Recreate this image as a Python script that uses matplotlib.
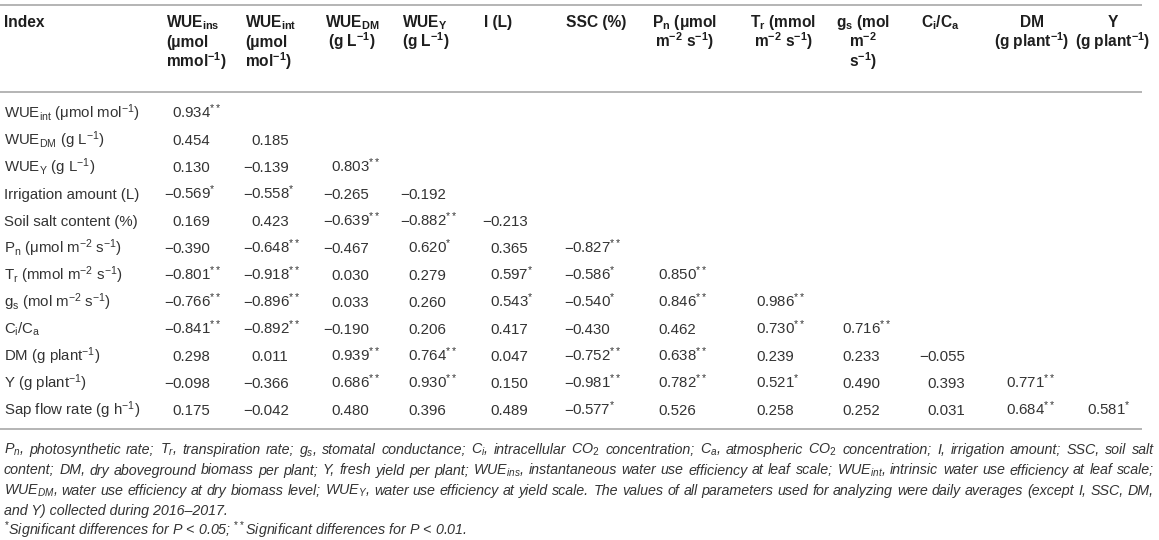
import matplotlib
matplotlib.use("Agg")
import matplotlib.pyplot as plt

# ---------------- data ----------------
row_labels = [
    r"WUE$_{\mathrm{int}}$ (μmol mol$^{-1}$)",
    r"WUE$_{\mathrm{DM}}$ (g L$^{-1}$)",
    r"WUE$_{\mathrm{Y}}$ (g L$^{-1}$)",
    "Irrigation amount (L)",
    "Soil salt content (%)",
    r"P$_{\mathrm{n}}$ (μmol m$^{-2}$ s$^{-1}$)",
    r"T$_{\mathrm{r}}$ (mmol m$^{-2}$ s$^{-1}$)",
    r"g$_{\mathrm{s}}$ (mol m$^{-2}$ s$^{-1}$)",
    r"C$_{\mathrm{i}}$/C$_{\mathrm{a}}$",
    r"DM (g plant$^{-1}$)",
    r"Y (g plant$^{-1}$)",
    r"Sap flow rate (g h$^{-1}$)",
]

header_index = "Index"
header_lines = [
    [r"WUE$_{\mathbf{ins}}$", "(μmol", r"mmol$^{\mathbf{-1}}$)"],
    [r"WUE$_{\mathbf{int}}$", "(μmol", r"mol$^{\mathbf{-1}}$)"],
    [r"WUE$_{\mathbf{DM}}$", r"(g L$^{\mathbf{-1}}$)"],
    [r"WUE$_{\mathbf{Y}}$", r"(g L$^{\mathbf{-1}}$)"],
    ["I (L)"],
    ["SSC (%)"],
    [r"P$_{\mathbf{n}}$ (μmol", r"m$^{\mathbf{-2}}$ s$^{\mathbf{-1}}$)"],
    [r"T$_{\mathbf{r}}$ (mmol", r"m$^{\mathbf{-2}}$ s$^{\mathbf{-1}}$)"],
    [r"g$_{\mathbf{s}}$ (mol", r"m$^{\mathbf{-2}}$", r"s$^{\mathbf{-1}}$)"],
    [r"C$_{\mathbf{i}}$/C$_{\mathbf{a}}$"],
    ["DM", r"(g plant$^{\mathbf{-1}}$)"],
    ["Y", r"(g plant$^{\mathbf{-1}}$)"],
]
header_align = ["left", "left", "center", "left", "left", "left",
                "center", "center", "center", "left", "center", "center"]

r_values = [
    [0.934],
    [0.454, 0.185],
    [0.130, -0.139, 0.803],
    [-0.569, -0.558, -0.265, -0.192],
    [0.169, 0.423, -0.639, -0.882, -0.213],
    [-0.390, -0.648, -0.467, 0.620, 0.365, -0.827],
    [-0.801, -0.918, 0.030, 0.279, 0.597, -0.586, 0.850],
    [-0.766, -0.896, 0.033, 0.260, 0.543, -0.540, 0.846, 0.986],
    [-0.841, -0.892, -0.190, 0.206, 0.417, -0.430, 0.462, 0.730, 0.716],
    [0.298, 0.011, 0.939, 0.764, 0.047, -0.752, 0.638, 0.239, 0.233, -0.055],
    [-0.098, -0.366, 0.686, 0.930, 0.150, -0.981, 0.782, 0.521, 0.490, 0.393, 0.771],
    [0.175, -0.042, 0.480, 0.396, 0.489, -0.577, 0.526, 0.258, 0.252, 0.031, 0.684, 0.581],
]
significance = [
    ["**"],
    ["", ""],
    ["", "", "**"],
    ["*", "*", "", ""],
    ["", "", "**", "**", ""],
    ["", "**", "", "*", "", "**"],
    ["**", "**", "", "", "*", "*", "**"],
    ["**", "**", "", "", "*", "*", "**", "**"],
    ["**", "**", "", "", "", "", "", "**", "**"],
    ["", "", "**", "**", "", "**", "**", "", "", ""],
    ["", "", "**", "**", "", "**", "**", "*", "", "", "**"],
    ["", "", "", "", "", "*", "", "", "", "", "**", "*"],
]

footnote_lines = [
    r"$P_n$, photosynthetic rate; $T_r$, transpiration rate; $g_s$, stomatal conductance; $C_i$, intracellular CO$_2$ concentration; $C_a$, atmospheric CO$_2$ concentration; I, irrigation amount; SSC, soil salt",
    r"content; DM, dry aboveground biomass per plant; Y, fresh yield per plant; WUE$_{ins}$, instantaneous water use efficiency at leaf scale; WUE$_{int}$, intrinsic water use efficiency at leaf scale;",
    r"WUE$_{DM}$, water use efficiency at dry biomass level; WUE$_Y$, water use efficiency at yield scale. The values of all parameters used for analyzing were daily averages (except I, SSC, DM,",
    "and Y) collected during 2016–2017.",
    r"$^{*}$Significant differences for P < 0.05; $^{**}$Significant differences for P < 0.01.",
]
footnote_justify = [True, True, True, False, False]

# ---------------- style ----------------
plt.rcParams["font.family"] = ["Liberation Sans", "DejaVu Sans"]
plt.rcParams["mathtext.fontset"] = "custom"
plt.rcParams["mathtext.rm"] = "Liberation Sans"
plt.rcParams["mathtext.sf"] = "Liberation Sans"
plt.rcParams["mathtext.bf"] = "Liberation Sans:bold"
plt.rcParams["mathtext.it"] = "Liberation Sans:italic"

W, H = 1159, 540
fig = plt.figure(figsize=(W / 100, H / 100), dpi=100)
ax = fig.add_axes([0, 0, 1, 1])
ax.set_xlim(0, W)
ax.set_ylim(H, 0)
ax.axis("off")
renderer = fig.canvas.get_renderer()

FS = 10.8
HFS = 11.2
TXT = "#333333"
HDR = "#1e1e1e"
RULE = "#b4b4b4"

col_x = [172, 251, 331, 408, 490, 572, 658, 756, 842, 927, 1006, 1087]
MINUS = 9.0
LEFT = 4
RIGHT_RULE = 1142
row_y0, row_dy = 112.5, 27.0
hdr_y = [27, 47, 67]

# rules
for y in (4.5, 92, 429):
    ax.plot([0, RIGHT_RULE], [y, y], color=RULE, lw=1.4, solid_capstyle="butt")

# header
ax.text(LEFT, hdr_y[0], header_index, ha="left", va="baseline",
        fontsize=HFS, fontweight="bold", color=HDR)
for j, lines in enumerate(header_lines):
    left = col_x[j] - 6
    if j >= 10:
        left = col_x[j] - MINUS - 3
    texts = [ax.text(left, hdr_y[k], ln, ha="left", va="baseline",
                     fontsize=HFS, fontweight="bold", color=HDR)
             for k, ln in enumerate(lines)]
    if header_align[j] == "center":
        widths = [t.get_window_extent(renderer).width for t in texts]
        c = left + max(widths) / 2
        for t in texts:
            t.set_x(c)
            t.set_ha("center")

# row labels and values
for i, (lab, vals, sigs) in enumerate(zip(row_labels, r_values, significance)):
    yb = row_y0 + i * row_dy + 5.3
    ax.text(LEFT, yb, lab, ha="left", va="baseline", fontsize=FS, color=TXT)
    for j, (v, s) in enumerate(zip(vals, sigs)):
        txt = f"{abs(v):.3f}" + (f"$^{{{s}}}$" if s else "")
        ax.text(col_x[j], yb, txt, ha="left", va="baseline", fontsize=FS, color=TXT)
        if v < 0:
            ax.text(col_x[j] + 0.8, yb, "\u2212", ha="right", va="baseline",
                    fontsize=FS, color=TXT)

# footnotes
foot_y = [454, 474.5, 495, 515, 535]
FX0, FX1 = 4, 1154
FFS = 10.3
FOOT_KW = dict(ha="left", va="baseline", fontsize=FFS, style="italic", color=TXT)


def place_line(s, y, justify):
    if not justify:
        ax.text(FX0, y, s, **FOOT_KW)
        return
    words = s.split(" ")
    texts = [ax.text(0, y, w, **FOOT_KW) for w in words]
    widths = [t.get_window_extent(renderer).width for t in texts]
    gap = (FX1 - FX0 - sum(widths)) / (len(words) - 1)
    x = FX0
    for t, w in zip(texts, widths):
        t.set_x(x)
        x += w + gap


for s, y, jus in zip(footnote_lines, foot_y, footnote_justify):
    place_line(s, y, jus)

fig.savefig("out.png", dpi=100)
